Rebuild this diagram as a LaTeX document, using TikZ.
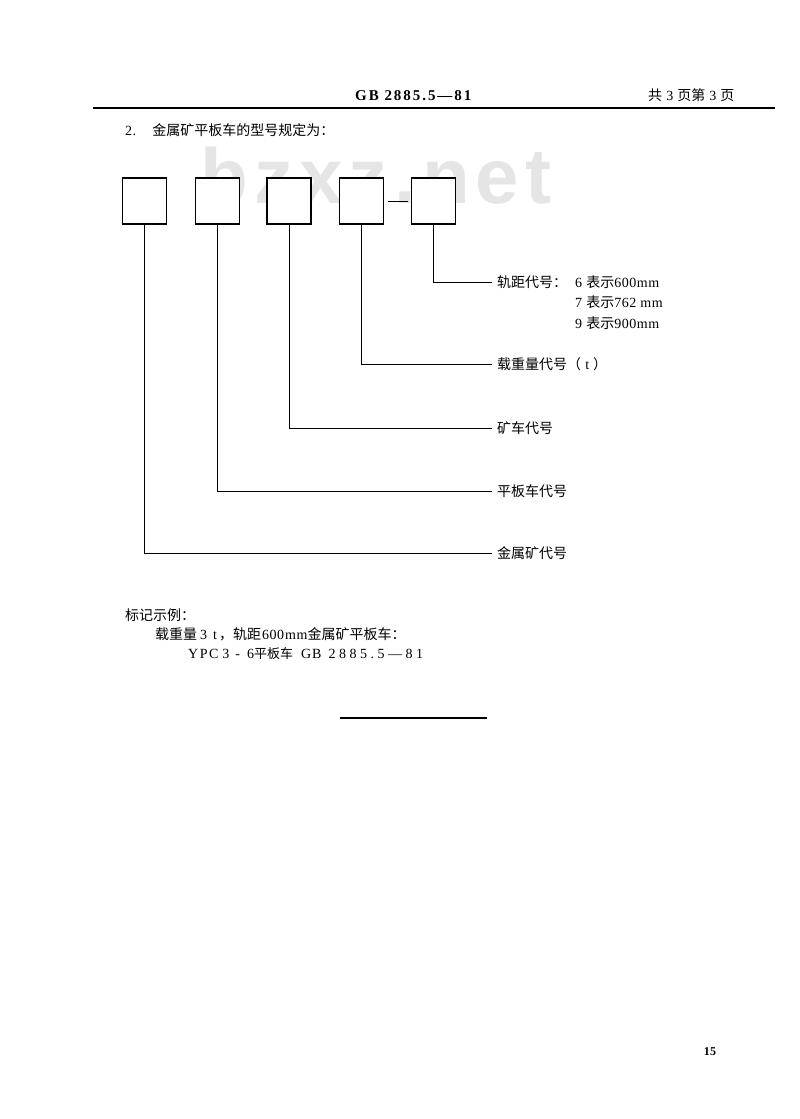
\documentclass[tikz,border=0pt]{standalone}
\usepackage{fontspec}
\usepackage{tikz}
\setmainfont{Liberation Serif}[LetterSpace=4]
\newfontfamily\cjk{Noto Sans CJK SC}
\newfontfamily\marksans{Liberation Sans}[LetterSpace=8]
\newcommand{\zh}[1]{{\cjk #1}}
\newcommand{\spread}[1]{{\addfontfeature{LetterSpace=25}#1}}

\tikzset{
    codebox/.style={draw, fill=white, line width=1.2pt, minimum width=44pt, minimum height=46pt, inner sep=0pt},
    codename/.style={anchor=west, inner xsep=5pt, inner ysep=0pt},
    plain/.style={anchor=west, inner sep=0pt},
    lead/.style={line width=0.9pt}
}

\begin{document}
\begin{tikzpicture}[x=1pt, y=-1pt, font=\fontsize{14}{17}\selectfont]
    \fill[white] (0,0) rectangle (800,1119);
    \useasboundingbox (0,0) rectangle (800,1119);
    \node[anchor=base west, inner sep=0pt, text=black!10, font=\marksans\bfseries\fontsize{78}{78}\selectfont] (mark) at (200,203) {bzxz.net};

    \node[plain, font=\bfseries\fontsize{15}{17}\selectfont\addfontfeature{LetterSpace=13}] (std) at (355,95.5) {GB 2885.5—81};
    \node[plain] (pages) at (648,95.5) {\zh{共} 3 \zh{页第} 3 \zh{页}};
    \draw[line width=1.4pt] (93,108) -- (775,108);
    \node[plain] (item) at (125,130) {2.\hspace{16pt}\zh{金属矿平板车的型号规定为：}};

    \node[codebox] (b1) at (144.7,201) {};
    \node[codebox] (b2) at (217.5,201) {};
    \node[codebox] (b3) at (289,201) {};
    \node[codebox] (b4) at (361.3,201) {};
    \node[codebox] (b5) at (433.7,201) {};
    \draw[lead] ([xshift=4pt]b4.east) -- ([xshift=-3.5pt]b5.west);

    \node[codename] (gauge) at (492,282) {\zh{轨距代号：}};
    \node[plain] (g6) at (575,282) {6 \zh{表示}600mm};
    \node[plain] (g7) at (575,302) {7 \zh{表示}762 mm};
    \node[plain] (g9) at (575,323) {9 \zh{表示}900mm};
    \node[codename] (load) at (492,364) {\zh{载重量代号（} t \zh{）}};
    \node[codename] (car) at (492,428) {\zh{矿车代号}};
    \node[codename] (flat) at (492,491) {\zh{平板车代号}};
    \node[codename] (metal) at (492,553) {\zh{金属矿代号}};

    \draw[lead] (b5.south) |- (gauge.west);
    \draw[lead] (b4.south) |- (load.west);
    \draw[lead] (b3.south) |- (car.west);
    \draw[lead] (b2.south) |- (flat.west);
    \draw[lead] (b1.south) |- (metal.west);

    \node[plain] (sample) at (125,615) {\zh{标记示例：}};
    \node[plain] (sampledesc) at (155,634) {\zh{载重量}\hspace{3pt}3\hspace{6pt}t\hspace{2pt}\zh{，轨距}\hspace{1pt}600\hspace{1pt}mm\zh{金属矿平板车：}};
    \node[plain] (samplecode) at (188,654) {Y\hspace{1.5pt}P\hspace{1.5pt}C\hspace{4pt}3\hspace{6pt}-\hspace{7pt}6{\fontsize{13}{16}\selectfont\zh{平板车}}\hspace{8pt}G\hspace{1pt}B\hspace{7pt}\spread{2885.5—81}};
    \draw[line width=1.2pt] (340,718) -- (487,718);
    \node[font=\bfseries\fontsize{12}{14}\selectfont] (pageno) at (710,1052) {15};
\end{tikzpicture}
\end{document}
